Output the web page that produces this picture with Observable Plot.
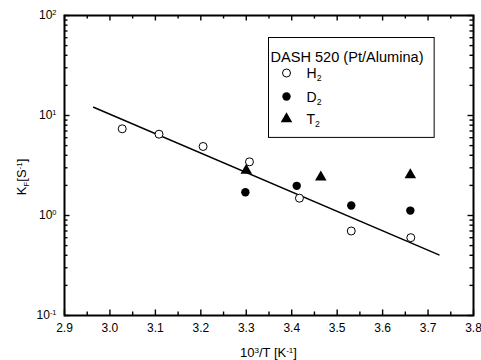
<!DOCTYPE html>
<html><head><meta charset="utf-8">
<script src="https://cdn.jsdelivr.net/npm/d3@7"></script>
<script src="https://cdn.jsdelivr.net/npm/@observablehq/plot@0.6"></script>
<style>
body{margin:0;background:#fff}
svg{font-family:"Liberation Sans",Arial,sans-serif;font-size:12px;background:#fff;color:#000}
</style>
</head><body><div id="chart"></div>
<script>
// Data
const h2X = [3.027, 3.108, 3.205, 3.307, 3.417, 3.531, 3.662];
const h2Y = [7.36, 6.5, 4.9, 3.44, 1.49, 0.70, 0.60];
const d2X = [3.298, 3.411, 3.531, 3.661];
const d2Y = [1.71, 1.98, 1.26, 1.12];
const t2X = [3.300, 3.464, 3.661];
const t2Y = [2.82, 2.42, 2.55];
const fitX = [2.964, 3.724];
const fitY = [12.1, 0.404];
const xMajor = [2.9, 3.0, 3.1, 3.2, 3.3, 3.4, 3.5, 3.6, 3.7, 3.8];
const xMinor = [2.95, 3.05, 3.15, 3.25, 3.35, 3.45, 3.55, 3.65, 3.75];
const yMajor = [0.1, 1, 10, 100];
const yMinor = [0.2,0.3,0.4,0.5,0.6,0.7,0.8,0.9,2,3,4,5,6,7,8,9,20,30,40,50,60,70,80,90];
const seriesNames = ["H_2", "D_2", "T_2"];
const legendTitle = "DASH 520 (Pt/Alumina)";
const xLabel = "10^3/T [K^-1]";
const yLabel = "K_F[S^-1]";

const W = 481, H = 360;
const mT = 15, mB = 45, mL = 64, mR = 8;
const innerW = W - mL - mR, innerH = H - mT - mB;
const majorLen = 5.5, minorLen = 3.5;

const pts = (xs, ys) => xs.map((x, i) => ({x, y: ys[i]}));
const h2 = pts(h2X, h2Y), d2 = pts(d2X, d2Y), t2 = pts(t2X, t2Y), fit = pts(fitX, fitY);

const plot = Plot.plot({
  width: W, height: H,
  marginTop: mT, marginBottom: mB, marginLeft: mL, marginRight: mR,
  x: {domain: [2.9, 3.8], ticks: xMajor, tickSize: 0, tickPadding: 8, label: null, tickFormat: d => d.toFixed(1)},
  y: {type: "log", domain: [0.1, 100], ticks: yMajor, tickSize: 0, tickPadding: 8, label: null,
      tickFormat: d => "10^" + Math.round(Math.log10(d))},
  marks: [
    Plot.frame({stroke: "#000", strokeWidth: 2}),
    // inward ticks: bottom/top
    Plot.ruleX(xMajor, {x: d => d, insetTop: innerH - majorLen, stroke: "#000", strokeWidth: 1.4}),
    Plot.ruleX(xMajor, {x: d => d, insetBottom: innerH - majorLen, stroke: "#000", strokeWidth: 1.4}),
    Plot.ruleX(xMinor, {x: d => d, insetTop: innerH - minorLen, stroke: "#000", strokeWidth: 1.4}),
    Plot.ruleX(xMinor, {x: d => d, insetBottom: innerH - minorLen, stroke: "#000", strokeWidth: 1.4}),
    // inward ticks: left/right
    Plot.ruleY(yMajor, {y: d => d, insetRight: innerW - majorLen, stroke: "#000", strokeWidth: 1.4}),
    Plot.ruleY(yMajor, {y: d => d, insetLeft: innerW - majorLen, stroke: "#000", strokeWidth: 1.4}),
    Plot.ruleY(yMinor, {y: d => d, insetRight: innerW - minorLen, stroke: "#000", strokeWidth: 1.4}),
    Plot.ruleY(yMinor, {y: d => d, insetLeft: innerW - minorLen, stroke: "#000", strokeWidth: 1.4}),
    Plot.line(fit, {x: "x", y: "y", stroke: "#000", strokeWidth: 1.5}),
    Plot.dot(h2, {x: "x", y: "y", r: 4, stroke: "#000", fill: "#fff", strokeWidth: 1}),
    Plot.dot(d2, {x: "x", y: "y", r: 4.2, fill: "#000", stroke: "none"}),
    Plot.dot(t2, {x: "x", y: "y", r: 4.3, symbol: "triangle", fill: "#000", stroke: "none"})
  ]
});
document.getElementById("chart").appendChild(plot);

const svg = d3.select(plot);

// rich text helper: "^" superscript, "_" subscript
function rich(sel, str, size) {
  sel.text(null);
  const re = /([\^_])(-?[0-9A-Za-z]+)/g;
  let last = 0, m;
  const add = (t, kind) => {
    const ts = sel.append("tspan").text(t);
    if (kind === "^") ts.attr("font-size", size * 0.62).attr("baseline-shift", "55%");
    else if (kind === "_") ts.attr("font-size", size * 0.62).attr("baseline-shift", "-35%");
  };
  while ((m = re.exec(str)) !== null) {
    if (m.index > last) add(str.slice(last, m.index), null);
    add(m[2], m[1]);
    last = re.lastIndex;
  }
  if (last < str.length) add(str.slice(last), null);
}

svg.selectAll('g[aria-label="y-axis tick label"] text').each(function() {
  const t = d3.select(this);
  rich(t, t.text(), 12);
});

// axis titles
const cx = mL + innerW / 2;
rich(svg.append("text").attr("x", cx).attr("y", H - 3).attr("text-anchor", "middle")
  .attr("font-size", 13), xLabel, 13);
rich(svg.append("text").attr("transform", `translate(${mL - 38},${mT + innerH * 0.54}) rotate(-90)`)
  .attr("text-anchor", "middle").attr("font-size", 13), yLabel, 13);

// legend
const lg = svg.append("g").attr("text-anchor", "start");
const lx = mL + innerW * 0.5, ly = mT + innerH * 0.075, lw = innerW * 0.405, lh = innerH * 0.333;
lg.append("rect").attr("x", lx).attr("y", ly).attr("width", lw).attr("height", lh)
  .attr("fill", "#fff").attr("stroke", "#000").attr("stroke-width", 1);
lg.append("text").attr("x", lx + 2).attr("y", ly + 24).attr("font-size", 14)
  .attr("textLength", 153).attr("lengthAdjust", "spacingAndGlyphs").text(legendTitle);
const rowY = [ly + 35.5, ly + 59, ly + 81.5];
const symX = lx + 18, txtX = lx + 38;
lg.append("circle").attr("cx", symX).attr("cy", rowY[0]).attr("r", 4).attr("fill", "#fff").attr("stroke", "#000");
lg.append("circle").attr("cx", symX).attr("cy", rowY[1]).attr("r", 4.2).attr("fill", "#000");
lg.append("path").attr("transform", `translate(${symX},${rowY[2]})`)
  .attr("d", d3.symbol(d3.symbolTriangle, 4.3 * 4.3 * Math.PI)()).attr("fill", "#000");
seriesNames.forEach((s, i) => {
  rich(lg.append("text").attr("x", txtX).attr("y", rowY[i] + 5).attr("font-size", 14), s, 14);
});
</script>
</body></html>
